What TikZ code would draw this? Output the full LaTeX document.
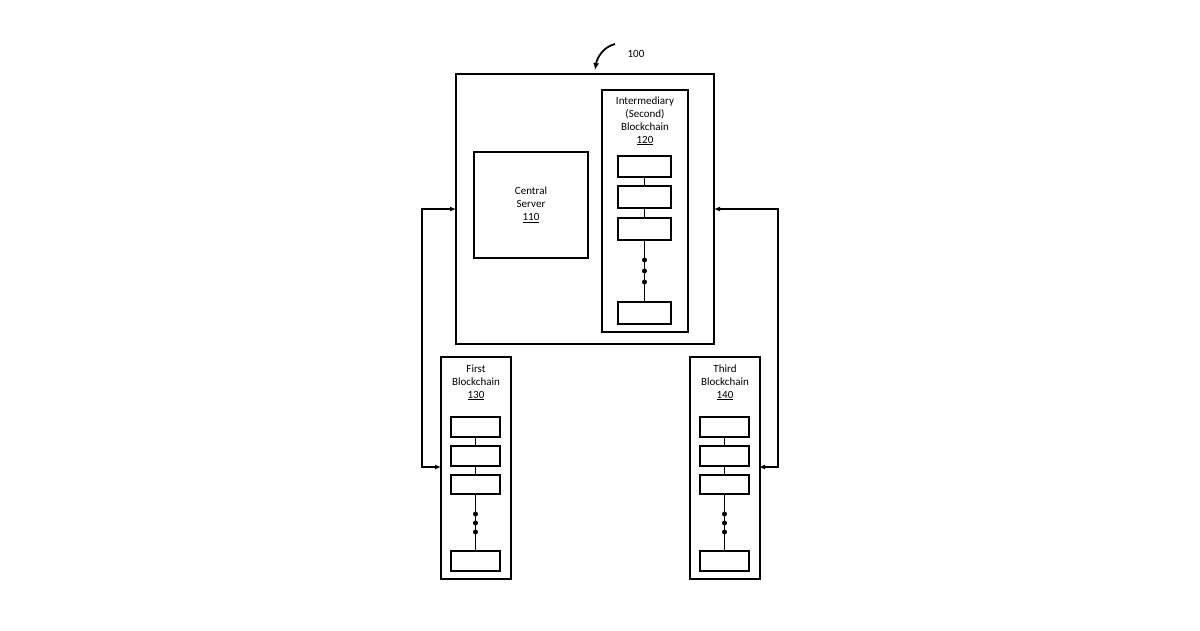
\documentclass[tikz,border=0pt]{standalone}
\usepackage{fontspec}
\setmainfont{Carlito}
\usetikzlibrary{arrows.meta}
\begin{document}
\begin{tikzpicture}[x=1pt,y=-1pt,
  box/.style={draw,line width=2.2pt},
  blk/.style={draw,line width=1.8pt},
  lbl/.style={font=\fontsize{11}{13}\selectfont,align=center},
  link/.style={line width=1.6pt},
  dot/.style={circle,fill,inner sep=0pt,minimum size=5pt},
  conn/.style={line width=1.8pt,{Latex[length=6pt,width=5pt]}-{Latex[length=6pt,width=5pt]}}]
\useasboundingbox (0,0) rectangle (1200,630);
% outer system
\draw[box] (456,74) rectangle (714,344);
\node[lbl] (n100) at (636,54) {100};
\draw[line width=1.8pt,-{Latex[length=7pt,width=6pt]}] (615,44) .. controls (603,47) and (597,58) .. (595,70);
% central server
\draw[box] (474,152) rectangle (588,258);
\node[lbl] (cs) at (531,205) {Central\\Server\\\underline{110}};
% intermediary chain
\draw[box] (602,90) rectangle (688,332);
\node[lbl,anchor=north] (ib) at (645,93) {Intermediary\\(Second)\\Blockchain\\\underline{120}};
\draw[blk] (618,156) rectangle (671,177);
\draw[blk] (618,186) rectangle (671,208);
\draw[blk] (618,218) rectangle (671,240);
\draw[blk] (618,302) rectangle (671,324);
\draw[link] (644.5,177) -- (644.5,186) (644.5,208) -- (644.5,218) (644.5,240) -- (644.5,302);
\foreach \y in {260,271,282} \node[dot] at (644.5,\y) {};
% first and third chains
\foreach \x/\t/\n in {441/First/130,690/Third/140}{
  \draw[box] (\x,357) rectangle ++(70,222);
  \node[lbl,anchor=north] at (\x+35,361) {\t\\Blockchain\\\underline{\n}};
  \draw[blk] (\x+10,417) rectangle ++(49,20);
  \draw[blk] (\x+10,446) rectangle ++(49,20);
  \draw[blk] (\x+10,475) rectangle ++(49,19);
  \draw[blk] (\x+10,551) rectangle ++(49,20);
  \draw[link] (\x+34.5,437) -- (\x+34.5,446) (\x+34.5,466) -- (\x+34.5,475) (\x+34.5,494) -- (\x+34.5,551);
  \foreach \y in {514,523,532} \node[dot] at (\x+34.5,\y) {};
}
\coordinate (L1) at (456,209); \coordinate (L2) at (441,467);
\coordinate (R1) at (714,209); \coordinate (R2) at (759,467);
\draw[conn] (L1) -- (422,209) -- (422,467) -- (L2);
\draw[conn] (R1) -- (778,209) -- (778,467) -- (R2);
\end{tikzpicture}
\end{document}
